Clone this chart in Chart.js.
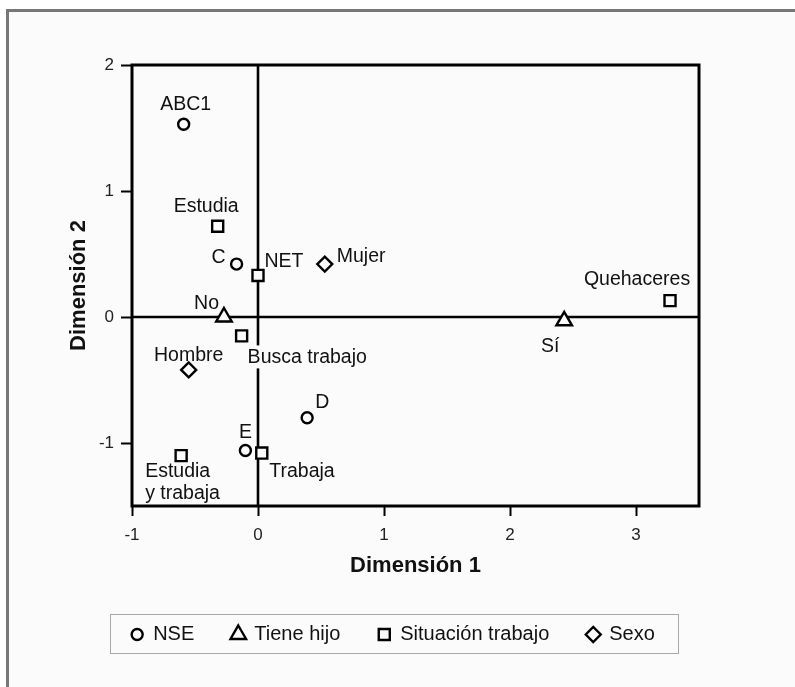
<!DOCTYPE html>
<html>
<head>
<meta charset="utf-8">
<script src="https://cdn.jsdelivr.net/npm/chart.js@4.4.1/dist/chart.umd.min.js"></script>
<style>
  html, body { margin: 0; padding: 0; background: #fff; overflow: hidden; }
  #frame {
    position: absolute; left: 6px; top: 9px; width: 789px; height: 678px;
    box-sizing: border-box; border-top: 3px solid #777; border-left: 3px solid #777;
    background: #fbfbfb;
  }
  #wrap { position: absolute; left: 0; top: 0; width: 795px; height: 687px; }
</style>
</head>
<body>
<div id="frame"></div>
<div id="wrap"><canvas id="chart"></canvas></div>
<script>
// Category coordinates on the two dimensions
const nseNames = ['ABC1', 'C', 'D', 'E'];
const nseDim1 = [-0.59, -0.17, 0.39, -0.10];
const nseDim2 = [1.53, 0.42, -0.80, -1.06];

const hijoNames = ['No', 'Sí'];
const hijoDim1 = [-0.27, 2.43];
const hijoDim2 = [0.00, -0.03];

const trabajoNames = ['Estudia', 'NET', 'Busca trabajo', 'Trabaja', 'Estudia\ny trabaja', 'Quehaceres'];
const trabajoDim1 = [-0.32, 0.00, -0.13, 0.03, -0.61, 3.27];
const trabajoDim2 = [0.72, 0.33, -0.15, -1.08, -1.10, 0.13];

const sexoNames = ['Mujer', 'Hombre'];
const sexoDim1 = [0.53, -0.55];
const sexoDim2 = [0.42, -0.42];

const xTicks = [-1, 0, 1, 2, 3];
const yTicks = [-1, 0, 1, 2];

const plotBg = '#fbfbfb';
const fontFamily = '"Liberation Sans", Arial, sans-serif';

function points(xs, ys) {
  return xs.map((x, i) => ({ x: x, y: ys[i] }));
}

// where each category name sits relative to its marker (dy = cap centre)
const labelPlacement = {
  'ABC1': { dx: 2, dy: -21, align: 'center' },
  'C': { dx: -11, dy: -8, align: 'right' },
  'D': { dx: 8, dy: -17, align: 'left' },
  'E': { dx: 0, dy: -20, align: 'center' },
  'No': { dx: -5, dy: -15, align: 'right' },
  'Sí': { dx: -14, dy: 24, align: 'center' },
  'Estudia': { dx: -11.5, dy: -21, align: 'center' },
  'NET': { dx: 6.5, dy: -15.5, align: 'left' },
  'Busca trabajo': { dx: 6, dy: 20.5, align: 'left' },
  'Trabaja': { dx: 7.5, dy: 17, align: 'left' },
  'Estudia\ny trabaja': { dx: -36, dy: 14, align: 'left' },
  'Quehaceres': { dx: -33, dy: -22.5, align: 'center' },
  'Mujer': { dx: 12, dy: -9, align: 'left' },
  'Hombre': { dx: 0, dy: -16, align: 'center' },
};

// Zero lines + category names, drawn under the markers
const pointLabels = {
  id: 'pointLabels',
  beforeDatasetsDraw(chart) {
    const { ctx, chartArea } = chart;
    const xs = chart.scales.x, ys = chart.scales.y;
    ctx.save();
    ctx.strokeStyle = '#000';
    ctx.lineWidth = 2.6;
    const x0 = xs.getPixelForValue(0), y0 = ys.getPixelForValue(0);
    ctx.beginPath();
    ctx.moveTo(x0, chartArea.top);
    ctx.lineTo(x0, chartArea.bottom);
    ctx.moveTo(chartArea.left, y0);
    ctx.lineTo(chartArea.right, y0);
    ctx.stroke();

    const size = 19.5;
    const capH = size * 0.716;
    ctx.font = size + 'px ' + fontFamily;
    ctx.textBaseline = 'alphabetic';
    chart.data.datasets.forEach((ds, di) => {
      const meta = chart.getDatasetMeta(di);
      meta.data.forEach((pt, i) => {
        const name = ds.names[i];
        const place = labelPlacement[name] || { dx: 8, dy: -12, align: 'left' };
        const lines = name.split('\n');
        lines.forEach((line, li) => {
          const w = ctx.measureText(line).width;
          const base = pt.y + place.dy + capH / 2 + li * 22.5;
          let left = pt.x + place.dx;
          if (place.align === 'center') left -= w / 2;
          if (place.align === 'right') left -= w;
          ctx.fillStyle = plotBg;
          ctx.fillRect(left - 1, base - capH - 4, w + 2, capH + 9);
          ctx.fillStyle = '#111';
          ctx.textAlign = 'left';
          ctx.fillText(line, left, base);
        });
      });
    });
    ctx.restore();
  },
  afterDraw(chart) {
    // plot frame on top of everything
    const { ctx, chartArea } = chart;
    ctx.save();
    ctx.strokeStyle = '#000';
    ctx.lineWidth = 3;
    ctx.strokeRect(chartArea.left, chartArea.top, chartArea.right - chartArea.left, chartArea.bottom - chartArea.top);
    ctx.restore();
  }
};

// Boxed legend under the axis title
const boxLegend = {
  id: 'boxLegend',
  afterDraw(chart) {
    const { ctx } = chart;
    const box = { left: 110, top: 614, width: 568, height: 39 };
    ctx.save();
    ctx.strokeStyle = '#a8a8a8';
    ctx.lineWidth = 1;
    ctx.strokeRect(box.left + 0.5, box.top + 0.5, box.width, box.height);

    ctx.font = '20px ' + fontFamily;
    ctx.textBaseline = 'middle';
    ctx.textAlign = 'left';
    const items = chart.data.datasets.map(ds => ({
      label: ds.label, style: ds.pointStyle, radius: ds.pointRadius,
      width: ctx.measureText(ds.label).width
    }));
    const markerGap = 16, itemGap = 44;
    const total = items.reduce((s, it) => s + markerGap + it.width, 0) + itemGap * (items.length - 1) + 6;
    let cx = box.left + box.width / 2 - total / 2 + 5;
    const cy = box.top + box.height / 2 + 1;
    items.forEach(it => {
      ctx.fillStyle = plotBg;
      ctx.strokeStyle = '#000';
      ctx.lineWidth = 2.4;
      Chart.helpers.drawPoint(ctx, { pointStyle: it.style, radius: it.radius, borderWidth: 2.4, rotation: 0 }, cx, cy);
      ctx.fillStyle = '#111';
      ctx.fillText(it.label, cx + markerGap, cy);
      cx += markerGap + it.width + itemGap;
    });
    ctx.restore();
  }
};

function keepWholeTicks(values) {
  return scale => {
    scale.ticks = values.map(v => ({ value: v }));
  };
}

const marker = {
  showLine: false,
  borderColor: '#000',
  backgroundColor: plotBg,
  pointBorderColor: '#000',
  pointBackgroundColor: plotBg,
  pointBorderWidth: 2.4,
};

new Chart(document.getElementById('chart'), {
  type: 'scatter',
  data: {
    datasets: [
      Object.assign({ label: 'NSE', names: nseNames, data: points(nseDim1, nseDim2), pointStyle: 'circle', pointRadius: 5.5 }, marker),
      Object.assign({ label: 'Tiene hijo', names: hijoNames, data: points(hijoDim1, hijoDim2), pointStyle: 'triangle', pointRadius: 9 }, marker),
      Object.assign({ label: 'Situación trabajo', names: trabajoNames, data: points(trabajoDim1, trabajoDim2), pointStyle: 'rect', pointRadius: 7.8 }, marker),
      Object.assign({ label: 'Sexo', names: sexoNames, data: points(sexoDim1, sexoDim2), pointStyle: 'rectRot', pointRadius: 7.5 }, marker),
    ]
  },
  options: {
    responsive: true,
    maintainAspectRatio: false,
    animation: false,
    events: [],
    layout: { padding: { left: 60, top: 65, right: 96, bottom: 108 } },
    plugins: {
      legend: { display: false },
      tooltip: { enabled: false },
    },
    scales: {
      x: {
        type: 'linear',
        min: -1,
        max: 3.5,
        afterBuildTicks: keepWholeTicks(xTicks),
        afterFit: scale => { scale.height = 73; },
        border: { display: false },
        grid: { drawOnChartArea: false, drawTicks: true, tickLength: 10, tickColor: '#000', tickWidth: 2 },
        ticks: { padding: 9, color: '#222', font: { family: fontFamily, size: 17 } },
        title: {
          display: true, text: 'Dimensión 1', color: '#111',
          padding: { top: 0, bottom: 0 },
          font: { family: fontFamily, size: 22, weight: 'bold' }
        }
      },
      y: {
        type: 'linear',
        min: -1.5,
        max: 2,
        afterBuildTicks: keepWholeTicks(yTicks),
        afterFit: scale => { scale.width = 72; },
        border: { display: false },
        grid: { drawOnChartArea: false, drawTicks: true, tickLength: 11, tickColor: '#000', tickWidth: 2 },
        ticks: { padding: 7, color: '#222', font: { family: fontFamily, size: 17 } },
        title: {
          display: true, text: 'Dimensión 2', color: '#111',
          padding: { top: 6, bottom: 0 },
          font: { family: fontFamily, size: 22, weight: 'bold' }
        }
      }
    }
  },
  plugins: [pointLabels, boxLegend]
});
</script>
</body>
</html>
